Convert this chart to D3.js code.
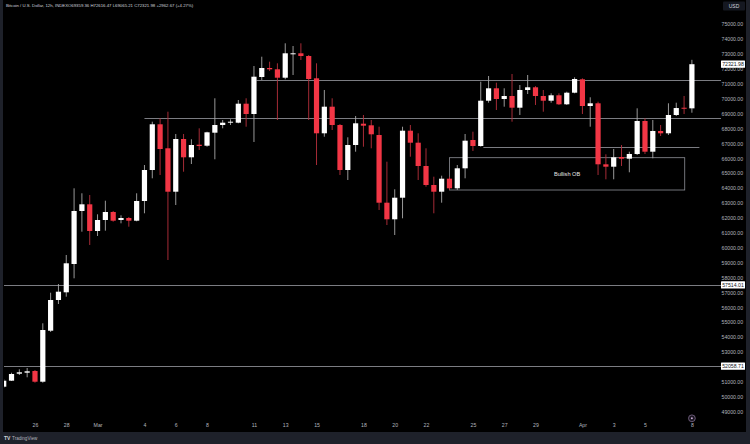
<!DOCTYPE html>
<html><head><meta charset="utf-8">
<script src="https://cdn.jsdelivr.net/npm/d3@7"></script>
<style>body{margin:0;background:#000;overflow:hidden}svg{display:block}</style>
</head><body><svg id="c" width="750" height="444"></svg>
<script>
// ---- data (12h candles, BTC/USD index) ----
const startTime = "2024-02-24T00:00:00Z";
const endTime = "2024-04-08T00:00:00Z";
const open = [50678,51081,51550,51617,51731,51013,54436,56497,57013,58913,62470,62919,61128,61866,62403,61866,62000,61819,63141,65221,68289,66678,63765,67302,66074,66919,66852,67725,68241,68396,68396,69671,68980,71463,72067,71980,71416,73007,73054,72872,71376,67685,69470,68241,65221,66899,68329,68221,67570,63027,61913,63362,67859,67054,65490,64215,63765,64638,63993,65335,67235,66832,69872,70705,69987,70188,69403,70591,70772,70188,69872,70235,69631,70409,71309,69517,69698,65604,65443,66094,65980,66295,68510,66450,67839,67685,68913,69400,69359.36];
const high = [51195,51617,51846,51933,51799,54933,56987,57570,59517,63993,63658,63544,62248,63161,62470,62181,62067,63658,65557,68463,68691,69134,67638,67638,67282,68020,67790,70034,68577,68624,69919,70034,72201,72825,72490,72382,73725,73543,73725,72940,72382,70591,70034,68308,67416,68845,68913,68577,68127,65779,63926,68127,68241,67685,66678,64772,64839,64772,65557,67638,67792,71148,71530,71081,70705,71664,70926,71597,70852,70591,70369,70369,70476,71443,71376,70101,69805,66275,66631,66899,66450,69362,68691,68577,68241,69698,69738,70188,72616.47];
const low = [50591,51060,51463,51309,50946,50946,54349,56228,56718,57953,61081,60188,60792,61148,61752,61644,61416,61778,62315,64664,64886,59181,62872,65107,65624,66564,66785,65940,68020,68241,68355,68127,67101,71262,71866,68577,71309,71597,72604,68577,65557,67456,67906,64886,64550,66450,66785,66678,62537,61530,60859,61980,66114,64550,64101,62315,63027,63879,63879,64664,66497,66785,69738,69248,69470,68463,68913,70322,69584,69134,69738,69584,69584,70369,68980,68127,64886,64597,64597,65490,65067,66228,66295,66007,67503,67570,68845,68980,69065.21];
const close = [51081,51530,51644,51711,51013,54483,56497,57054,58960,62470,62919,61128,61866,62403,61819,62000,61819,63141,65221,68289,66631,63765,67302,66074,66899,66832,67751,68241,68396,68463,69671,68980,71483,72067,71980,71416,73054,73054,72872,71329,67685,69470,68241,65221,66899,68356,68195,67617,63027,61913,63362,67859,67054,65490,64215,63765,64638,63993,65335,67188,66832,69872,70705,69987,70188,69403,70591,70772,70188,69872,70235,69631,70409,71329,69517,69698,65604,65443,66074,65980,66295,68510,66450,67839,67685,68913,69380,69359.31,72321.98];

const priceTicks = d3.range(49000, 75001, 1000);
const tickDates = ["2024-02-26","2024-02-28","2024-03-01","2024-03-04","2024-03-06","2024-03-08","2024-03-11","2024-03-13","2024-03-15","2024-03-18","2024-03-20","2024-03-22","2024-03-25","2024-03-27","2024-03-29","2024-04-01","2024-04-03","2024-04-05","2024-04-08"];
const tickLabels = ["26","28","Mar","4","6","8","11","13","15","18","20","22","25","27","29","Apr","3","5","8"];

// horizontal levels
const levelPrices = [71282, 68691, 66785, 57514.01, 52058.71];
const levelFrom = ["2024-03-11T04:00:00Z","2024-03-04T00:00:00Z","2024-03-25T16:00:00Z",null,null];
const levelTo = [null,null,"2024-04-08T11:30:00Z",null,null];
const levelLabeled = [false,false,false,true,true];

// order block box
const obName = "Bullish OB";
const obFrom = "2024-03-23T12:00:00Z", obTo = "2024-04-07T13:00:00Z";
const obTop = 66047, obBottom = 63879;

const title = "Bitcoin / U.S. Dollar, 12h, INDEX";
const ohlcText = "O69359.36 H72616.47 L69065.21 C72321.98 +2962.67 (+4.27%)";
const lastPrice = 72321.98;

// ---- drawing ----
const W = 750, H = 444;
const plotL = 4, plotR = 721, plotT = 12, plotB = 431;
const svg = d3.select("#c");
const FONT = "'Liberation Sans', Arial, sans-serif";

svg.append("rect").attr("width", W).attr("height", H).attr("fill", "#000");
// frame
svg.append("rect").attr("x",0).attr("y",432).attr("width",W).attr("height",12).attr("fill","#1e212a");
svg.append("rect").attr("x",0).attr("y",0).attr("width",3).attr("height",H).attr("fill","#1e212a");
svg.append("rect").attr("x",746).attr("y",0).attr("width",4).attr("height",H).attr("fill","#1e212a");

const times = d3.utcHour.every(12).range(new Date(startTime), new Date(new Date(endTime).getTime()+1));
const x = d3.scaleUtc().domain([new Date(startTime), new Date(endTime)]).range([3.7, 691.9]);
const y = d3.scaleLinear().domain([49000, 75000]).range([411.7, 24.3]);

const defs = svg.append("defs");
defs.append("clipPath").attr("id","clip").append("rect")
  .attr("x",plotL).attr("y",plotT).attr("width",plotR-plotL).attr("height",plotB-plotT);

const g = svg.append("g").attr("clip-path","url(#clip)");

// levels
levelPrices.forEach((p,i)=>{
  const x1 = levelFrom[i] ? x(new Date(levelFrom[i])) : plotL;
  const x2 = levelTo[i] ? x(new Date(levelTo[i])) : plotR;
  const yy = Math.round(y(p)) + 0.5;
  g.append("line").attr("x1",x1).attr("x2",x2).attr("y1",yy).attr("y2",yy)
    .attr("stroke","#9a9ca3").attr("stroke-width",0.8);
});

// OB box
const bx1 = x(new Date(obFrom)), bx2 = x(new Date(obTo));
const by1 = y(obTop), by2 = y(obBottom);
g.append("rect").attr("x",bx1).attr("y",by1).attr("width",bx2-bx1).attr("height",by2-by1)
  .attr("fill","none").attr("stroke","#8e9097").attr("stroke-width",0.8);
g.append("text").attr("x",(bx1+bx2)/2).attr("y",(by1+by2)/2+2)
  .attr("text-anchor","middle").attr("font-family",FONT).attr("font-size",5.6)
  .attr("fill","#e6e6e6").text(obName);

// candles
const bw = 5.2;
const candles = g.append("g");
times.forEach((t,i)=>{
  const up = close[i] >= open[i];
  const cx = x(t);
  candles.append("line").attr("x1",cx).attr("x2",cx).attr("y1",y(high[i])).attr("y2",y(low[i]))
    .attr("stroke", up ? "#a9a9a9" : "#b8303c").attr("stroke-width",0.9);
  const yTop = y(Math.max(open[i],close[i])), yBot = y(Math.min(open[i],close[i]));
  candles.append("rect").attr("x",cx-bw/2).attr("y",yTop)
    .attr("width",bw).attr("height",Math.max(1,yBot-yTop))
    .attr("fill", up ? "#ffffff" : "#f23645");
});

// price axis
const ya = svg.append("g").attr("transform",`translate(${plotR},0)`)
  .call(d3.axisRight(y).tickValues(priceTicks).tickFormat(d=>d.toFixed(2)).tickSize(0).tickPadding(0.5));
ya.select(".domain").remove();
ya.selectAll("text").attr("font-family",FONT).attr("font-size",5.2).attr("fill","#b2b5be");

// labeled price boxes
function priceBox(p){
  const yy = y(p);
  svg.append("rect").attr("x",721).attr("y",yy-3.6).attr("width",24).attr("height",7.2)
    .attr("fill","#ffffff").attr("rx",0.5);
  svg.append("text").attr("x",733).attr("y",yy+1.8).attr("text-anchor","middle")
    .attr("font-family",FONT).attr("font-size",5.2).attr("fill","#131722").text(p.toFixed(2));
}
levelPrices.forEach((p,i)=>{ if(levelLabeled[i]) priceBox(p); });
priceBox(lastPrice);

// time axis
const xa = svg.append("g").attr("transform",`translate(0,${plotB-6})`)
  .call(d3.axisBottom(x).tickValues(tickDates.map(d=>new Date(d+"T00:00:00Z")))
    .tickFormat((d,i)=>tickLabels[i]).tickSize(0).tickPadding(0));
xa.select(".domain").remove();
xa.selectAll("text").attr("font-family",FONT).attr("font-size",5.2).attr("fill","#b2b5be").attr("dy","0.4em");

// header
svg.append("text").attr("x",6).attr("y",6.8).attr("font-family",FONT)
  .attr("font-size",4.3).attr("fill","#d1d4dc").text(title);
svg.append("text").attr("x",68).attr("y",6.8).attr("font-family",FONT)
  .attr("font-size",4.3).attr("fill","#d1d4dc").text(ohlcText);

// USD box
svg.append("rect").attr("x",723).attr("y",1.5).attr("width",22).attr("height",9).attr("fill","#151821").attr("rx",1);
svg.append("text").attr("x",734).attr("y",7.8).attr("text-anchor","middle").attr("font-family",FONT)
  .attr("font-size",5).attr("fill","#d1d4dc").text("USD");

// small indicator circle near bottom
svg.append("circle").attr("cx",x(new Date("2024-04-08T00:00:00Z"))).attr("cy",418.3).attr("r",3.4)
  .attr("fill","#1a1620").attr("stroke","#7d6a8c").attr("stroke-width",0.8);
svg.append("circle").attr("cx",x(new Date("2024-04-08T00:00:00Z"))).attr("cy",418.3).attr("r",1)
  .attr("fill","#c9a9d6");

// footer logo
svg.append("text").attr("x",4).attr("y",440).attr("font-family",FONT).attr("font-weight","bold")
  .attr("font-size",5).attr("fill","#d1d4dc").text("TV");
svg.append("text").attr("x",12).attr("y",440).attr("font-family",FONT)
  .attr("font-size",4.6).attr("fill","#b2b5be").text("TradingView");
</script></body></html>
